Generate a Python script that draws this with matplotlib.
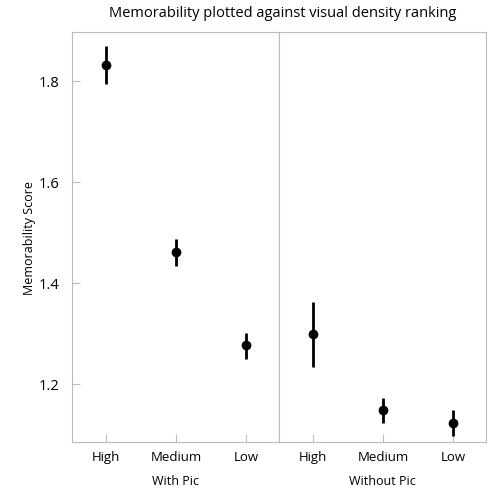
import numpy as np
import matplotlib.pyplot as plt

plt.rcParams['font.family'] = ['Open Sans', 'DejaVu Sans']

# ====================================
# data
# ====================================

groups = ["With Pic", "Without Pic"]
levels = ["High", "Medium", "Low"]

with_pic_mean = [1.832, 1.461, 1.277]
with_pic_lo = [1.794, 1.434, 1.249]
with_pic_hi = [1.868, 1.487, 1.301]

without_pic_mean = [1.299, 1.149, 1.123]
without_pic_lo = [1.234, 1.123, 1.097]
without_pic_hi = [1.362, 1.173, 1.149]

# ====================================
# plot
# ====================================

edge = "#bbbbbb"

fig, axes = plt.subplots(1, 2, figsize=(4.89, 4.89), dpi=100, sharey=True)
fig.subplots_adjust(left=0.148, right=0.994, top=0.933, bottom=0.094, wspace=0)

panels = [
    (with_pic_mean, with_pic_lo, with_pic_hi),
    (without_pic_mean, without_pic_lo, without_pic_hi),
]

for ax, name, (m, lo, hi) in zip(axes, groups, panels):
    x = np.arange(len(levels))
    m = np.array(m)
    err = [m - np.array(lo), np.array(hi) - m]
    ax.errorbar(x, m, yerr=err, fmt='o', color='black',
                markersize=6, elinewidth=2, capsize=0)
    ax.set_xticks(x)
    ax.set_xticklabels(levels)
    ax.set_xlim(-0.48, 2.47)
    ax.set_xlabel(name, fontsize=9, labelpad=8)
    for s in ax.spines.values():
        s.set_color(edge)
    ax.tick_params(direction='in', color=edge, length=6, labelsize=9.5, pad=6)

axes[0].set_ylim(1.085, 1.897)
axes[0].set_yticks([1.2, 1.4, 1.6, 1.8])
axes[0].set_ylabel("Memorability Score", fontsize=9, labelpad=2)
axes[0].tick_params(axis='y', labelsize=10.5, pad=9)
axes[1].tick_params(axis='y', length=0)

fig.suptitle("Memorability plotted against visual density ranking",
             fontsize=10.5, x=0.578, y=0.988)

plt.savefig("out.png")
